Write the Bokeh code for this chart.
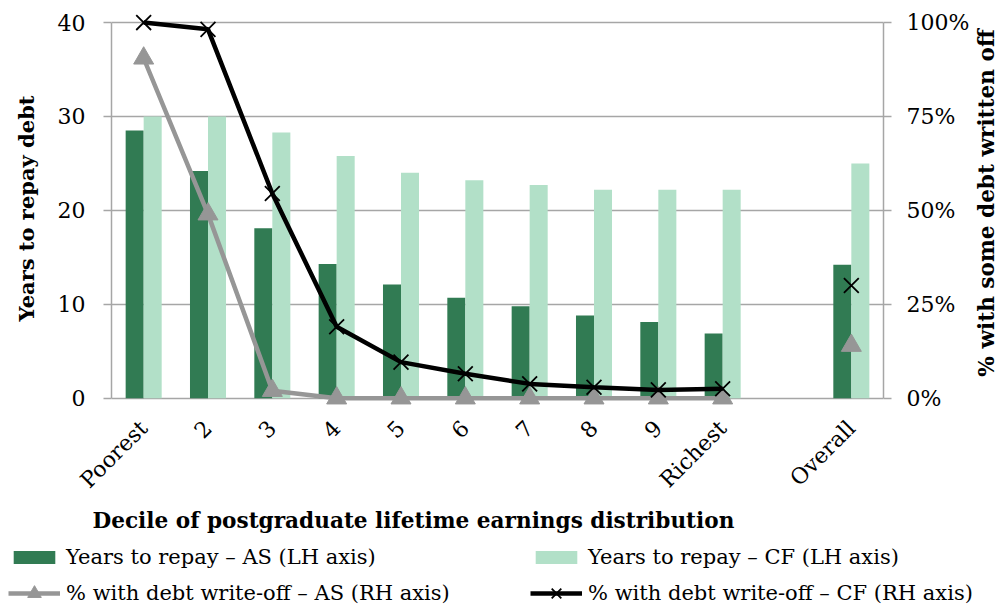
import math
from bokeh.plotting import figure
from bokeh.layouts import column, row
from bokeh.models import (Range1d, LinearAxis, FixedTicker, NumeralTickFormatter,
                          Legend, LegendItem, Title, Label, ColumnDataSource)
from bokeh.transform import dodge
from bokeh.embed import file_html
from bokeh.resources import INLINE

# ---- data ----
categories = ["Poorest", "2", "3", "4", "5", "6", "7", "8", "9", "Richest", "Overall"]
slot = [0, 1, 2, 3, 4, 5, 6, 7, 8, 9, 11]   # Overall separated by an empty slot
years_as = [28.5, 24.2, 18.1, 14.3, 12.1, 10.7, 9.8, 8.8, 8.1, 6.9, 14.2]
years_cf = [30.0, 30.0, 28.3, 25.8, 24.0, 23.2, 22.7, 22.2, 22.2, 22.2, 25.0]
writeoff_as = [0.905, 0.49, 0.02, 0.0, 0.0, 0.0, 0.0, 0.0, 0.0, 0.0, 0.14]
writeoff_cf = [1.00, 0.982, 0.545, 0.19, 0.096, 0.065, 0.038, 0.029, 0.022, 0.025, 0.30]
years_ticks = [0, 10, 20, 30, 40]
pct_ticks = [0, 0.25, 0.5, 0.75, 1.0]
legend_labels = ["Years to repay – AS (LH axis)", "Years to repay – CF (LH axis)",
                 "% with debt write-off – AS (RH axis)", "% with debt write-off – CF (RH axis)"]
x_title = "Decile of postgraduate lifetime earnings distribution"
left_title = "Years to repay debt"
right_title = "% with some debt written off"

FONT = "DejaVu Serif"
DARK = "#317B53"
LIGHT = "#B2E0C8"
GREY = "#969696"
AXIS_GREY = "#A6A6A6"


def no_align(fig):
    if "frame_align" in fig.properties():
        fig.frame_align = False


src_dec = ColumnDataSource(dict(x=slot[:10], a=writeoff_as[:10], c=writeoff_cf[:10]))
src_all = ColumnDataSource(dict(x=slot[10:], a=writeoff_as[10:], c=writeoff_cf[10:]))
src_bar = ColumnDataSource(dict(x=slot, yas=years_as, ycf=years_cf))

Y0, Y1 = -1.1, 41.5
p = figure(width=972, height=540, output_backend="svg", toolbar_location=None,
           x_range=Range1d(-0.5, 11.5), y_range=Range1d(Y0, Y1),
           min_border_left=111, min_border_right=88, min_border_top=8,
           min_border_bottom=132)
no_align(p)
p.outline_line_color = None
p.extra_y_ranges = {"pct": Range1d(Y0 / 40, Y1 / 40)}

bar_as = dict(fill_color=DARK, line_color=None)
bar_cf = dict(fill_color=LIGHT, line_color=None)
line_as = dict(line_color=GREY, line_width=4.5)
line_cf = dict(line_color="black", line_width=4.5)
mark_as = dict(marker="triangle", size=20, fill_color=GREY, line_color=GREY)
mark_cf = dict(marker="x", size=21, line_color="black", line_width=1.8)

# bars
p.vbar(x=dodge("x", -0.14), top="yas", bottom=0, width=0.28, source=src_bar, **bar_as)
p.vbar(x=dodge("x", 0.14), top="ycf", bottom=0, width=0.28, source=src_bar, **bar_cf)

# lines (right axis)
p.line("x", "a", source=src_dec, y_range_name="pct", **line_as)
p.scatter("x", "a", source=src_dec, y_range_name="pct", **mark_as)
p.scatter("x", "a", source=src_all, y_range_name="pct", **mark_as)
p.line("x", "c", source=src_dec, y_range_name="pct", **line_cf)
p.scatter("x", "c", source=src_dec, y_range_name="pct", **mark_cf)
p.scatter("x", "c", source=src_all, y_range_name="pct", **mark_cf)

# grid
p.xgrid.grid_line_color = None
p.ygrid.grid_line_color = AXIS_GREY
p.ygrid.grid_line_width = 1.5
p.ygrid.ticker = FixedTicker(ticks=years_ticks)

# x axis
xa = p.xaxis[0]
xa.ticker = FixedTicker(ticks=slot)
xa.major_label_overrides = {s: c for s, c in zip(slot, categories)}
xa.major_label_orientation = math.pi / 4
xa.major_tick_line_color = None
xa.minor_tick_line_color = None
xa.axis_line_color = None
xa.major_label_text_font = FONT
xa.major_label_text_font_size = "22px"
xa.major_label_text_color = "black"
xa.major_label_standoff = 10


def style_y(ax):
    ax.major_label_text_font = FONT
    ax.major_label_text_font_size = "22px"
    ax.major_label_text_color = "black"
    ax.major_tick_out = 8
    ax.major_tick_in = 0
    ax.major_tick_line_color = AXIS_GREY
    ax.major_tick_line_width = 1.5
    ax.minor_tick_line_color = None
    ax.axis_line_color = AXIS_GREY
    ax.axis_line_width = 1.5
    ax.axis_label_text_font = FONT
    ax.axis_label_text_font_size = "21px"
    ax.axis_label_text_font_style = "bold"
    ax.axis_label_text_color = "black"


# left axis
ya = p.yaxis[0]
style_y(ya)
ya.ticker = FixedTicker(ticks=years_ticks)
ya.bounds = (0, 40)
ya.axis_label = left_title
ya.axis_label_standoff = 16
ya.major_label_standoff = 18

# right axis
ra = LinearAxis(y_range_name="pct", ticker=FixedTicker(ticks=pct_ticks),
                formatter=NumeralTickFormatter(format="0%"), bounds=(0, 1))
style_y(ra)
ra.major_label_standoff = 15
p.add_layout(ra, "right")

# x axis title
p.add_layout(Title(text=x_title, align="left", offset=-19, text_font=FONT,
                   text_font_size="21.6px", text_font_style="bold", text_color="black",
                   standoff=2), "below")

# ---- right-hand axis title strip (reads bottom to top) ----
tf = figure(width=28, height=540, output_backend="svg", toolbar_location=None,
            x_range=Range1d(0, 1), y_range=Range1d(0, 1),
            x_axis_location=None, y_axis_location=None,
            min_border_left=0, min_border_right=0, min_border_top=0, min_border_bottom=0)
no_align(tf)
tf.grid.visible = False
tf.outline_line_color = None
tf.add_layout(Label(x=0.5, y=0.625, text=right_title, angle=math.pi / 2,
                    text_align="center", text_baseline="middle", text_font=FONT,
                    text_font_size="21.6px", text_font_style="bold", text_color="black"))

# ---- legend strip (separate figure, its own frame) ----
lg = figure(width=1000, height=70, output_backend="svg", toolbar_location=None,
            x_range=Range1d(-30, -29), y_range=Range1d(-30, -29),
            x_axis_location=None, y_axis_location=None,
            min_border_left=0, min_border_right=0, min_border_top=0, min_border_bottom=0)
no_align(lg)
lg.grid.visible = False
lg.outline_line_color = None
# proxies for the legend only (outside the strip's ranges, so not visible)
r_bas = lg.vbar(x=slot, top=years_as, width=0.28, **bar_as)
r_bcf = lg.vbar(x=slot, top=years_cf, width=0.28, **bar_cf)
r_las = lg.line(x=slot, y=writeoff_as, **line_as)
r_mas = lg.scatter(x=slot, y=writeoff_as, **mark_as)
r_lcf = lg.line(x=slot, y=writeoff_cf, **line_cf)
r_mcf = lg.scatter(x=slot, y=writeoff_cf, **mark_cf)

common = dict(glyph_width=52, label_standoff=6, padding=0, margin=0,
              border_line_color=None, background_fill_alpha=0, label_text_font=FONT,
              label_text_font_size="21px", label_text_color="black")
bar_leg = dict(glyph_height=16, label_height=16, **common)
line_leg = dict(glyph_height=34, label_height=16, **common)

legends = [
    Legend(items=[LegendItem(label=legend_labels[0], renderers=[r_bas])],
           location=(8, 41), **bar_leg),
    Legend(items=[LegendItem(label=legend_labels[1], renderers=[r_bcf])],
           location=(530, 41), **bar_leg),
    Legend(items=[LegendItem(label=legend_labels[2], renderers=[r_las, r_mas])],
           location=(8, 0), **line_leg),
    Legend(items=[LegendItem(label=legend_labels[3], renderers=[r_lcf, r_mcf])],
           location=(530, 0), **line_leg),
]
for leg in legends:
    lg.add_layout(leg, "center")

layout = column(row(p, tf, spacing=0), lg, spacing=0)
open("out.html", "w").write(file_html(layout, INLINE))
